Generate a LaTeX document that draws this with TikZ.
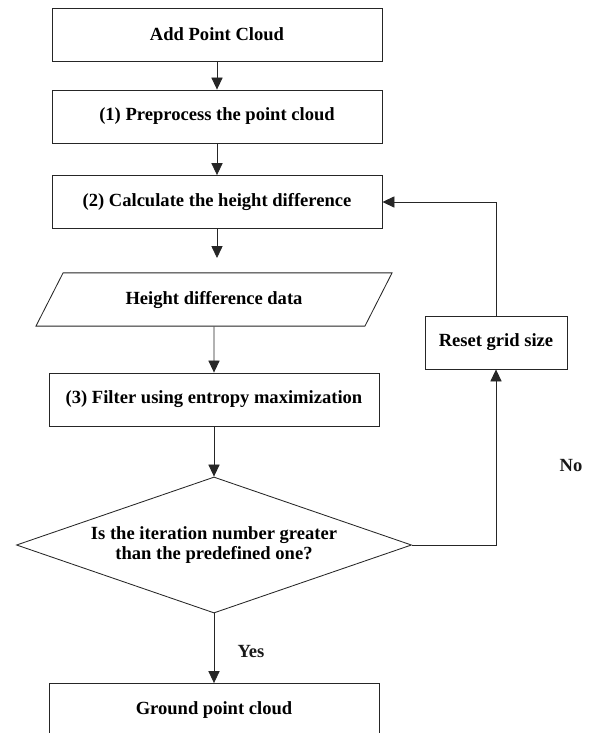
\documentclass[tikz,border=0pt]{standalone}
\usepackage{fontspec}
\setmainfont{Liberation Serif}
\usepackage{tikz}
\usetikzlibrary{shapes.geometric, arrows.meta, positioning}
\newcommand{\flowfont}{\fontsize{13.2}{14.6}\selectfont\bfseries}
\tikzset{
  flowbox/.style={
    draw=black!85, line width=0.6pt, align=center,
    font=\flowfont, fill=white, inner sep=0pt,
    minimum width=8.25cm, minimum height=1.325cm
  },
  databox/.style={
    trapezium, trapezium left angle=63, trapezium right angle=117,
    trapezium stretches body=true, draw=black!85, line width=0.6pt,
    align=center, font=\flowfont, fill=white,
    inner xsep=0pt, inner ysep=0.45cm, text height=0.33cm, text depth=0.1cm,
    minimum width=8.9cm
  },
  decisionbox/.style={
    diamond, aspect=2.9, draw=black!85, line width=0.6pt,
    align=center, font=\flowfont, fill=white, inner sep=0pt,
    minimum width=9.875cm, minimum height=3.4cm
  },
  flowarrow/.style={
    -{Triangle[length=0.3cm, width=0.28cm]}, line width=0.6pt,
    color=black!85
  },
  flowlabel/.style={
    font=\flowfont, text=black!90
  },
}

\begin{document}
\begin{tikzpicture}[x=0.025cm, y=-0.025cm]
  \useasboundingbox (0,0) rectangle (592,733);
  % Main column
  \node[flowbox] (add) at (217,34.5) {Add Point Cloud};
  \node[flowbox] (prep) at (217,116.5) {(1) Preprocess the point cloud};
  \node[flowbox] (calc) at (217,202) {(2) Calculate the height difference};
  \coordinate (gap) at (217,258);
  \node[databox] (hdata) at (214,299.5) {Height difference data};
  \node[flowbox] (filt) at (214,399.5) {(3) Filter using entropy maximization};
  \node[decisionbox] (iter) at (214,545) {Is the iteration number greater\\than the predefined one?};
  \node[flowbox] (ground) at (214,710) {Ground point cloud};
  % Loop back
  \node[flowbox, minimum width=3.55cm] (reset) at (496,342.5) {Reset grid size};
  % Labels
  \node[flowlabel] (yes) at (251,652) {Yes};
  \node[flowlabel] (no) at (571,466) {No};
  % Arrows
  \draw[flowarrow] (add) -- (prep);
  \draw[flowarrow] (prep) -- (calc);
  \draw[flowarrow] (calc) -- (gap);
  \draw[flowarrow] (hdata) -- (filt);
  \draw[flowarrow] (filt) -- (iter);
  \draw[flowarrow] (iter) -- (ground);
  \draw[flowarrow] (iter.east) -| (reset);
  \draw[flowarrow] (reset) |- (calc);
\end{tikzpicture}
\end{document}
